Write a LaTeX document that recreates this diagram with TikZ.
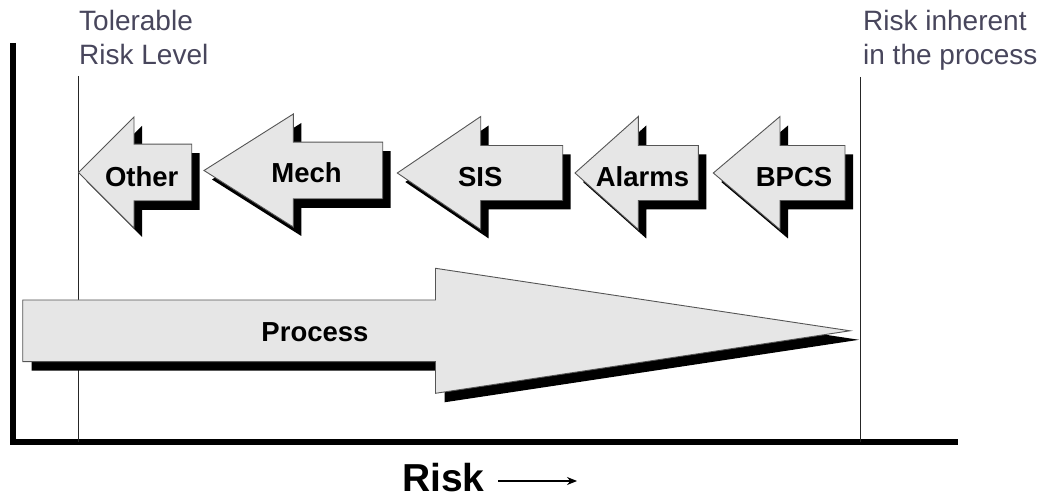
\documentclass[tikz,border=0pt]{standalone}
\usepackage{fontspec}
\setmainfont{Liberation Sans}
\usetikzlibrary{arrows.meta}

\definecolor{arrowfill}{RGB}{230,230,230}
\definecolor{arrowedge}{RGB}{85,85,85}
\definecolor{headtext}{RGB}{72,70,92}

\tikzset{
  arrowbody/.style={fill=arrowfill,draw=arrowedge,line width=0.9pt,line join=miter},
  shadowbody/.style={fill=black},
  tagtext/.style={font=\bfseries\fontsize{27.5}{30}\selectfont,inner sep=0pt,anchor=base},
  headtext/.style={font=\fontsize{28}{34}\selectfont,text=headtext,inner sep=0pt,anchor=base west},
  axisline/.style={line width=5.5pt,line join=miter},
  levelline/.style={line width=1pt,draw=black!85},
}

% left-pointing block arrow with a drop shadow
% #1 tip x, #2 centre y, #3 head base x, #4 head half height,
% #5 shaft half height, #6 tail x
\newcommand{\leftblockarrow}[6]{%
  \path[shadowbody,shift={(8,9)}] (#1,#2) -- (#3,{#2-#4}) -- (#3,{#2-#5}) -- (#6,{#2-#5})
    -- (#6,{#2+#5}) -- (#3,{#2+#5}) -- (#3,{#2+#4}) -- cycle;
  \path[arrowbody] (#1,#2) -- (#3,{#2-#4}) -- (#3,{#2-#5}) -- (#6,{#2-#5})
    -- (#6,{#2+#5}) -- (#3,{#2+#5}) -- (#3,{#2+#4}) -- cycle;}

\begin{document}
\begin{tikzpicture}[x=1pt,y=-1pt]
\useasboundingbox (0,0) rectangle (1047,502);

% axes
\coordinate (ytop) at (13,43);
\coordinate (origin) at (13,442);
\coordinate (xend) at (958,442);
\draw[axisline] (ytop) -- (origin) -- (xend);

% risk levels
\coordinate (toltop) at (78,76);
\coordinate (tolbot) at (78,442);
\coordinate (inhtop) at (860,77);
\coordinate (inhbot) at (860,442);
\draw[levelline] (toltop) -- (tolbot);
\draw[levelline] (inhtop) -- (inhbot);

\node[headtext] (tol1) at (79,31) {Tolerable};
\node[headtext] (tol2) at (79,65) {Risk Level};
\node[headtext] (inh1) at (863,31) {Risk inherent};
\node[headtext] (inh2) at (863,65) {in the process};

% risk reduction layers
\leftblockarrow{78.5}{172.5}{134}{55.5}{28.3}{191.7}
\leftblockarrow{204}{170.5}{293.3}{56.5}{28.3}{382.7}
\leftblockarrow{397.3}{173}{480.7}{56.5}{27.5}{562.7}
\leftblockarrow{575}{173}{638.3}{56.5}{27.5}{698.3}
\leftblockarrow{713.3}{173}{780}{56.5}{27.5}{845}

\node[tagtext] (other) at (141.7,187) {Other};
\node[tagtext] (mech) at (306.5,183) {Mech};
\node[tagtext] (sis) at (480.3,186.7) {SIS};
\node[tagtext] (alarms) at (642.5,187) {Alarms};
\node[tagtext] (bpcs) at (794,187) {BPCS};

% process risk arrow
\path[shadowbody,shift={(9,9)}] (850,330.8) -- (435.5,393.3) -- (435.5,361.7) -- (22.7,361.7)
  -- (22.7,300) -- (435.5,300) -- (435.5,268.3) -- cycle;
\path[arrowbody] (850,330.8) -- (435.5,393.3) -- (435.5,361.7) -- (22.7,361.7)
  -- (22.7,300) -- (435.5,300) -- (435.5,268.3) -- cycle;
\node[tagtext] (process) at (315,341.5) {Process};

% axis caption
\node[font=\bfseries\fontsize{39}{40}\selectfont,inner sep=0pt,anchor=base west] (risk) at (402,491) {Risk};
\coordinate (riskfrom) at (498,481);
\coordinate (riskto) at (577,481);
\draw[line width=1.3pt,-{Stealth[length=10pt,width=8pt]}] (riskfrom) -- (riskto);
\end{tikzpicture}
\end{document}
